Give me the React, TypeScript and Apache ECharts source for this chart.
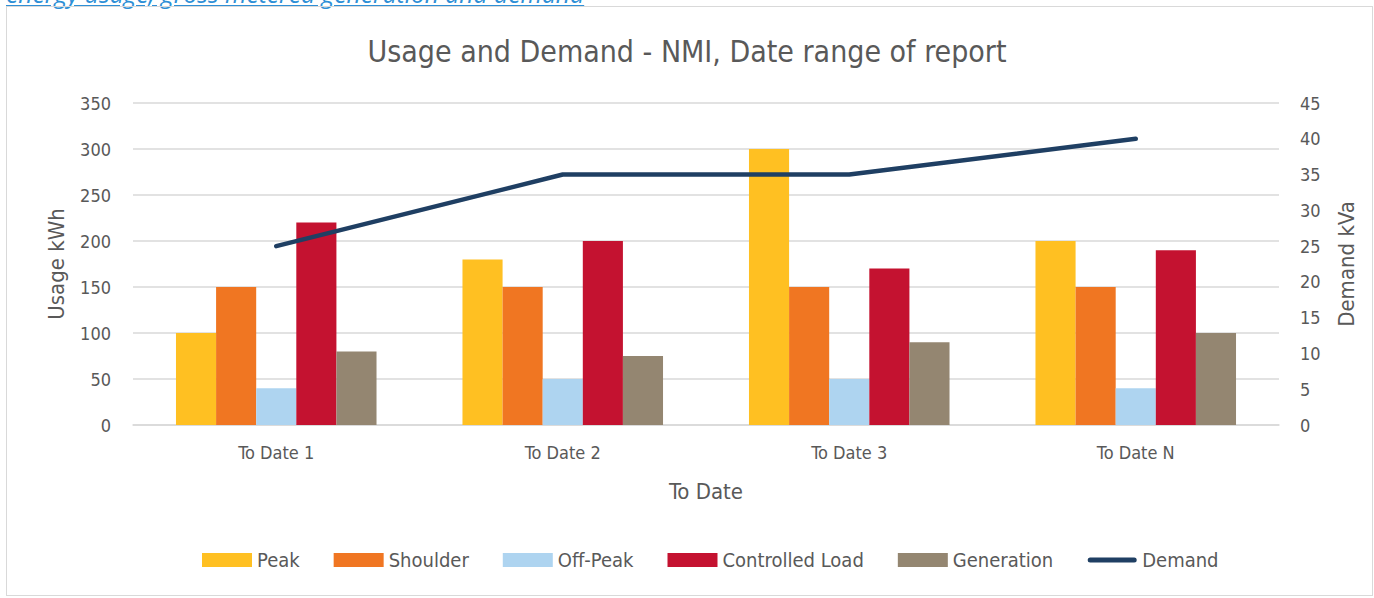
import React, { useEffect, useRef } from "react";
import * as echarts from "echarts";

const categories = ["To Date 1", "To Date 2", "To Date 3", "To Date N"];
const peak = [100, 180, 300, 200];
const shoulder = [150, 150, 150, 150];
const offPeak = [40, 50, 50, 40];
const controlledLoad = [220, 200, 170, 190];
const generation = [80, 75, 90, 100];
const demand = [25, 35, 35, 40];

const FONT = "'Liberation Sans Narrow', 'DejaVu Sans Condensed', 'Roboto', sans-serif";
const GREY = "#595959";
const DEMAND_ICON =
  "path://M0,0 M3,4.5 L47,4.5 A2.5,2.5 0 0 1 47,9.5 L3,9.5 A2.5,2.5 0 0 1 3,4.5 Z M50,14";

export default function App() {
  const ref = useRef<HTMLDivElement>(null);
  useEffect(() => {
    if (!ref.current) return;
    const chart = echarts.init(ref.current, undefined, { renderer: "svg" });
    const bar = (name: string, data: number[], color: string) => ({
      name,
      type: "bar",
      data,
      yAxisIndex: 0,
      barGap: "0%",
      barCategoryGap: "30%",
      itemStyle: { color },
    });
    chart.setOption({
      animation: false,
      textStyle: { fontFamily: FONT },
      title: {
        text: "Usage and Demand - NMI, Date range of report",
        left: "center",
        top: 31,
        textStyle: { fontFamily: FONT, fontSize: 30, fontWeight: "normal", color: GREY },
      },
      grid: { left: 133, right: 95, top: 103, bottom: 173 },
      legend: {
        top: 545,
        left: 197,
        itemWidth: 50,
        itemHeight: 14,
        itemGap: 34,
        textStyle: { fontFamily: FONT, fontSize: 20, color: GREY },
        data: [
          { name: "Peak", icon: "rect" },
          { name: "Shoulder", icon: "rect" },
          { name: "Off-Peak", icon: "rect" },
          { name: "Controlled Load", icon: "rect" },
          { name: "Generation", icon: "rect" },
          { name: "Demand", icon: DEMAND_ICON },
        ],
      },
      xAxis: {
        type: "category",
        data: categories,
        name: "To Date",
        nameLocation: "middle",
        nameGap: 55,
        nameTextStyle: { fontFamily: FONT, fontSize: 22, color: GREY },
        axisLine: { lineStyle: { color: "#d9d9d9", width: 1.5 } },
        axisTick: { show: false },
        axisLabel: { fontFamily: FONT, fontSize: 18, color: GREY, margin: 18 },
      },
      yAxis: [
        {
          type: "value",
          min: 0,
          max: 350,
          interval: 50,
          name: "Usage kWh",
          nameLocation: "middle",
          nameRotate: 90,
          nameGap: 66,
          nameTextStyle: { fontFamily: FONT, fontSize: 22, color: GREY },
          axisLabel: { fontFamily: FONT, fontSize: 18, color: GREY, margin: 22 },
          splitLine: { lineStyle: { color: "#d9d9d9", width: 1.5 } },
          axisLine: { show: false },
          axisTick: { show: false },
        },
        {
          type: "value",
          min: 0,
          max: 45,
          interval: 5,
          name: "Demand kVa",
          nameLocation: "middle",
          nameRotate: 90,
          nameGap: 56,
          nameTextStyle: { fontFamily: FONT, fontSize: 22, color: GREY },
          axisLabel: { fontFamily: FONT, fontSize: 18, color: GREY, margin: 21 },
          splitLine: { show: false },
          axisLine: { show: false },
          axisTick: { show: false },
        },
      ],
      series: [
        bar("Peak", peak, "#FFC022"),
        bar("Shoulder", shoulder, "#F07622"),
        bar("Off-Peak", offPeak, "#AED4F0"),
        bar("Controlled Load", controlledLoad, "#C41230"),
        bar("Generation", generation, "#948671"),
        {
          name: "Demand",
          type: "line",
          yAxisIndex: 1,
          data: demand,
          symbol: "none",
          lineStyle: { color: "#1F3F63", width: 4.5, cap: "round", join: "round" },
          itemStyle: { color: "#1F3F63" },
        },
      ],
    });
    return () => chart.dispose();
  }, []);
  return (
    <div style={{ position: "fixed", left: 0, top: 0, width: 1374, height: 598, background: "#fff", overflow: "hidden" }}>
      <div
        style={{
          position: "absolute",
          left: 6,
          top: -21,
          fontFamily: "'Open Sans', 'DejaVu Sans', sans-serif",
          fontSize: 24.6,
          fontStyle: "italic",
          color: "#2E8FD6",
          textDecoration: "underline",
          whiteSpace: "nowrap",
          lineHeight: "30px",
        }}
      >
        energy usage, gross metered generation and demand
      </div>
      <div
        style={{
          position: "absolute",
          left: 6,
          top: 6,
          width: 1365,
          height: 588,
          border: "1px solid #d9d9d9",
        }}
      />
      <div ref={ref} style={{ position: "absolute", left: 0, top: 0, width: 1374, height: 598 }} />
    </div>
  );
}
